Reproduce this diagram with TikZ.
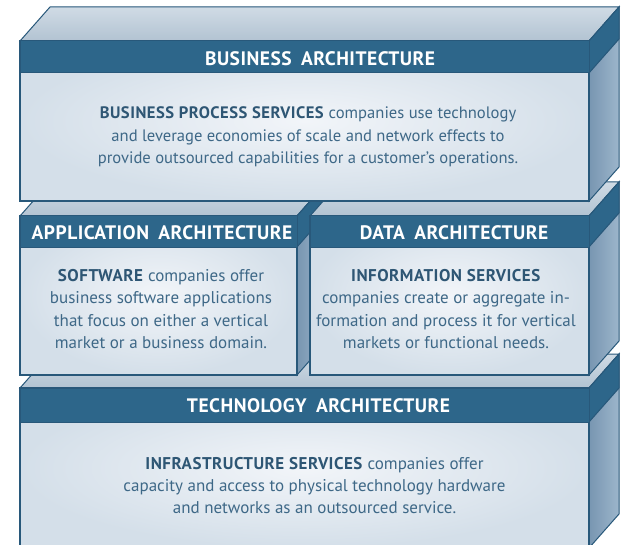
\documentclass[tikz,border=0pt]{standalone}
\usepackage{fontspec}
\setmainfont{PT Sans}
\usetikzlibrary{calc}
\definecolor{band}{RGB}{45,102,138}
\definecolor{edge}{RGB}{40,88,122}
\definecolor{txt}{RGB}{62,104,135}
\definecolor{txtb}{RGB}{46,86,116}
\definecolor{frontin}{RGB}{242,245,249}
\definecolor{frontout}{RGB}{212,223,233}
\definecolor{topl}{RGB}{208,219,229}
\definecolor{topd}{RGB}{178,195,210}
\definecolor{sided}{RGB}{120,150,177}
\definecolor{sidel}{RGB}{156,181,203}
\tikzset{
  front/.style={draw=edge, line width=1.2pt, inner color=frontin, outer color=frontout},
  topface/.style={draw=edge, line width=1pt, top color=topl, bottom color=topd},
  sideface/.style={draw=edge, line width=1pt, left color=sided, right color=sidel},
  bandfill/.style={fill=band, draw=edge, line width=1pt},
  title/.style={text=white, font=\fontsize{19.5}{21}\selectfont\bfseries\addfontfeature{LetterSpace=2.5}, inner sep=0pt},
  body/.style={text=txt, font=\fontsize{17}{22.3}\selectfont, align=center, inner sep=0pt},
}
\newcommand\bw[1]{\textcolor{txtb}{\textbf{\addfontfeature{LetterSpace=3}#1}}}
% #1 x-left, #2 y-top, #3 x-right, #4 y-bottom, #5 y of band bottom
\newcommand\archblk[5]{%
  \path[topface] (#1,#2) -- ++(30,-34) -- ($(#3,#2)+(30,-34)$) -- (#3,#2) -- cycle;
  \path[sideface] (#3,#2) -- ++(30,-34) -- ($(#3,#4)+(30,-34)$) -- (#3,#4) -- cycle;
  \path[bandfill] (#3,#2) -- ++(30,-34) -- ($(#3,#5)+(30,-34)$) -- (#3,#5) -- cycle;
  \path[front] (#1,#2) rectangle (#3,#4);
  \path[bandfill] (#1,#2) rectangle (#3,#5);
}
\begin{document}
\begin{tikzpicture}[x=1pt,y=-1pt]
\useasboundingbox (0,0) rectangle (623,545);
\clip (0,0) rectangle (623,545);
\fill[white] (0,0) rectangle (623,545);
% technology
\archblk{20}{388}{589}{548}{422}
% application
\archblk{20}{216}{297}{375}{247}
% data
\archblk{310}{216}{589}{375}{247}
% business
\archblk{20}{41}{589}{201}{73}

\node[title] (tb) at (320,58.5) {BUSINESS \hspace{0.2em}ARCHITECTURE};
\node[body, font=\fontsize{16.6}{22.6}\selectfont] (bb) at (308,137) {\bw{BUSINESS PROCESS SERVICES} companies use technology\\
and leverage economies of scale and network effects to\\
provide outsourced capabilities for a customer’s operations.};

\node[title] (ta) at (162,232.5) {APPLICATION \hspace{0.2em}ARCHITECTURE};
\node[body] (ba) at (161,309) {\bw{SOFTWARE} companies offer\\
business software applications\\
that focus on either a vertical\\
market or a business domain.};

\node[title] (td) at (454,232.5) {DATA \hspace{0.2em}ARCHITECTURE};
\node[body] (bd) at (446,309) {\bw{INFORMATION SERVICES}\\
companies create or aggregate in-\\
formation and process it for vertical\\
markets or functional needs.};

\node[title] (tt) at (318.5,405.5) {TECHNOLOGY \hspace{0.2em}ARCHITECTURE};
\node[body] (bt) at (314.5,485.5) {\bw{INFRASTRUCTURE SERVICES} companies offer\\
capacity and access to physical technology hardware\\
and networks as an outsourced service.};
\end{tikzpicture}
\end{document}
